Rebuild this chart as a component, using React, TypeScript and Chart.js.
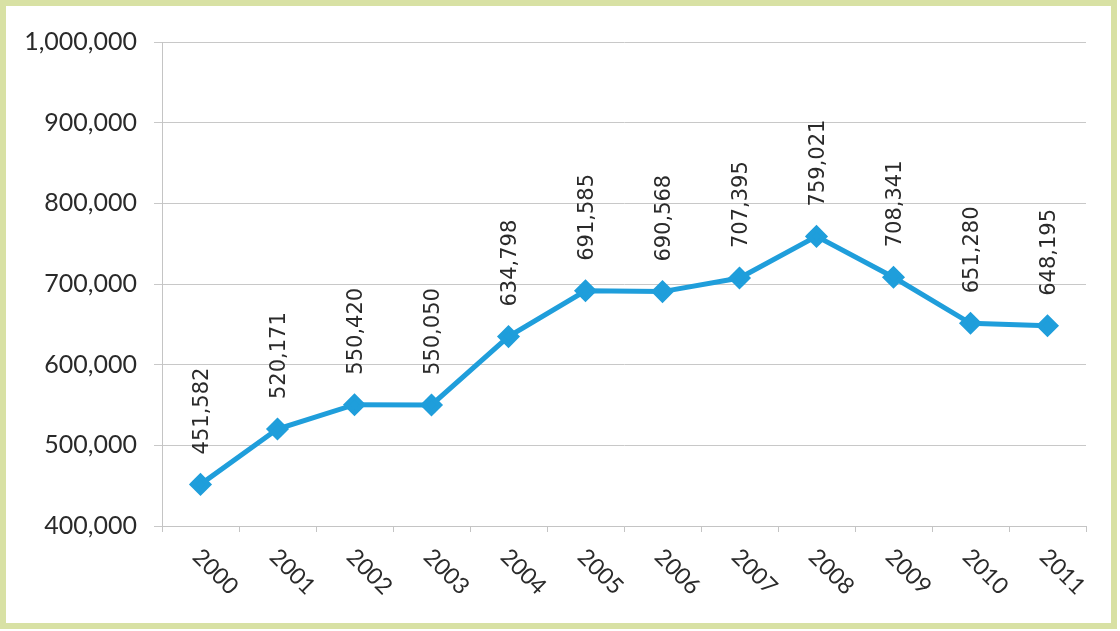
import React, { useEffect, useRef } from "react";
import { Chart, registerables } from "chart.js";

Chart.register(...registerables);

const years = ["2000", "2001", "2002", "2003", "2004", "2005", "2006", "2007", "2008", "2009", "2010", "2011"];
const values = [451582, 520171, 550420, 550050, 634798, 691585, 690568, 707395, 759021, 708341, 651280, 648195];
const yMin = 400000;
const yMax = 1000000;
const yStep = 100000;

const fmt = (v: number) => v.toLocaleString("en-US");

const labelPlugin = {
  id: "customLabels",
  afterDatasetsDraw(chart: any) {
    const ctx = chart.ctx;
    const meta = chart.getDatasetMeta(0);
    ctx.save();
    ctx.fillStyle = "#2a2a2a";
    ctx.font = "21px 'DejaVu Sans'";
    ctx.textAlign = "left";
    ctx.textBaseline = "middle";
    meta.data.forEach((pt: any, i: number) => {
      ctx.save();
      ctx.translate(pt.x + 2, pt.y - 30);
      ctx.rotate(-Math.PI / 2);
      ctx.fillText(fmt(values[i]), 0, 0);
      ctx.restore();
    });
    ctx.restore();
  },
  afterDraw(chart: any) {
    const ctx = chart.ctx;
    const xs = chart.scales.x;
    const bottom = chart.chartArea.bottom;
    ctx.save();
    ctx.fillStyle = "#2a2a2a";
    ctx.font = "23px Lato";
    ctx.textAlign = "left";
    ctx.textBaseline = "middle";
    years.forEach((y, i) => {
      const x = xs.getPixelForValue(i);
      ctx.save();
      ctx.translate(x - 4, bottom + 27);
      ctx.rotate(Math.PI / 4);
      ctx.fillText(y, 0, 0);
      ctx.restore();
    });
    ctx.restore();
  },
};

export default function App() {
  const ref = useRef<HTMLCanvasElement | null>(null);

  useEffect(() => {
    document.body.style.margin = "0";
    if (!ref.current) return;
    const chart = new Chart(ref.current, {
      type: "line",
      data: {
        labels: years,
        datasets: [
          {
            data: values,
            borderColor: "#1f9edb",
            backgroundColor: "#1f9edb",
            borderWidth: 5,
            pointStyle: "rectRot",
            pointRadius: 8,
            pointHoverRadius: 8,
            pointBackgroundColor: "#1f9edb",
            pointBorderColor: "#1f9edb",
            tension: 0,
          },
        ],
      },
      options: {
        animation: false,
        responsive: false,
        maintainAspectRatio: false,
        layout: { padding: { left: 0, top: 42, right: 34, bottom: 0 } },
        plugins: {
          legend: { display: false },
          tooltip: { enabled: false },
        },
        scales: {
          x: {
            offset: true,
            grid: {
              display: true,
              offset: true,
              drawOnChartArea: false,
              drawTicks: true,
              tickLength: 6,
              color: "#c4c4c4",
            },
            border: { display: true, color: "#c4c4c4" },
            ticks: { display: false },
            afterFit: (scale: any) => {
              scale.height = 105;
            },
          },
          y: {
            min: yMin,
            max: yMax,
            ticks: {
              stepSize: yStep,
              padding: 17,
              color: "#2a2a2a",
              font: { family: "Lato", size: 25 },
              callback: (v: any) => fmt(Number(v)),
            },
            grid: {
              color: "#c8c8c8",
              drawTicks: true,
              tickLength: 8,
            },
            border: { display: true, color: "#c4c4c4" },
            afterFit: (scale: any) => {
              scale.width = 162;
            },
          },
        },
      },
      plugins: [labelPlugin],
    });
    return () => chart.destroy();
  }, []);

  return (
    <div style={{ position: "relative", width: 1120, height: 631, background: "#ffffff", overflow: "hidden" }}>
      <div
        style={{
          position: "absolute",
          left: 0,
          top: 0,
          width: 1117,
          height: 629,
          border: "6px solid #d8e1a4",
          boxSizing: "border-box",
        }}
      />
      <canvas ref={ref} width={1120} height={631} style={{ position: "absolute", left: 0, top: 0 }} />
    </div>
  );
}
